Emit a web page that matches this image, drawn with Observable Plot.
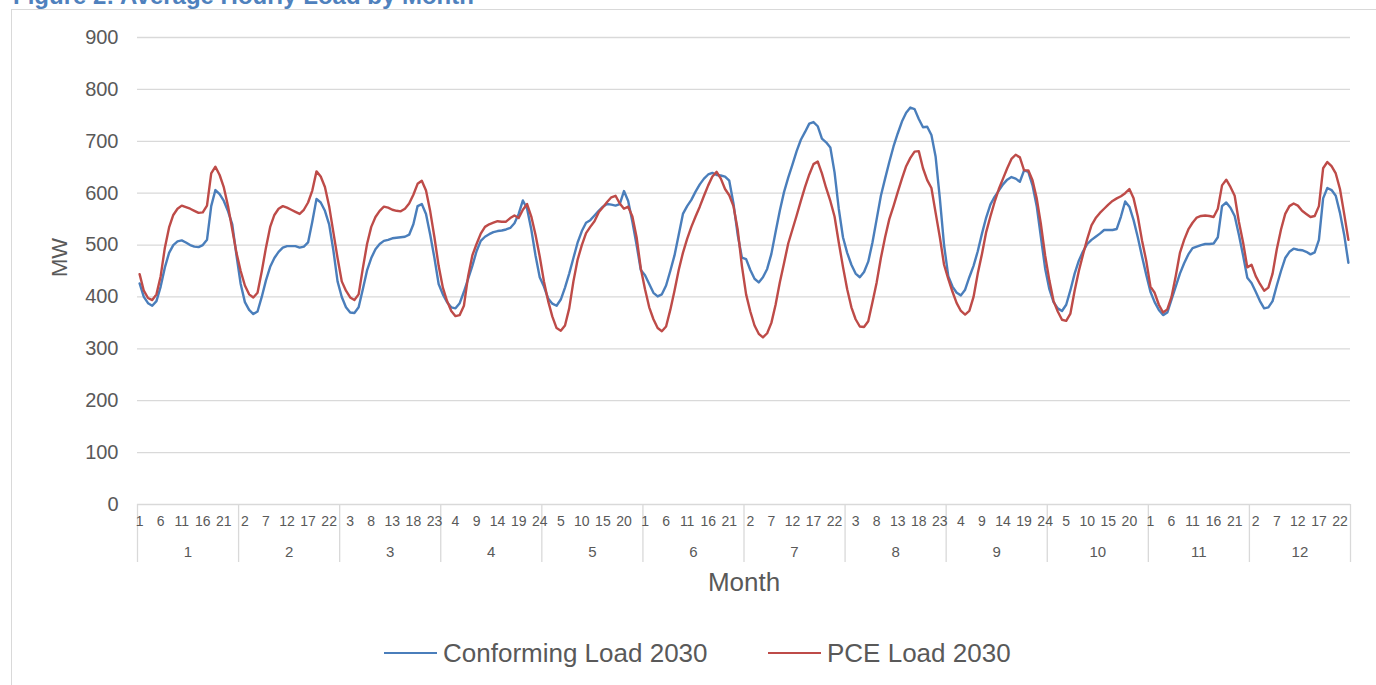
<!DOCTYPE html>
<html>
<head>
<meta charset="utf-8">
<script src="https://cdn.jsdelivr.net/npm/d3@7"></script>
<script src="https://cdn.jsdelivr.net/npm/@observablehq/plot@0.6"></script>
<style>
  body { margin: 0; background: #fff; font-family: "Liberation Sans", Arial, sans-serif; }
  #wrap { position: relative; width: 1376px; height: 685px; overflow: hidden; }
  #frame { position: absolute; left: 11px; top: 9px; width: 1450px; height: 760px;
           border-left: 1.5px solid #d9d9d9; border-top: 1.5px solid #d9d9d9; }
  #title { position: absolute; left: 13px; top: -16px; font-weight: bold; font-size: 24px;
           line-height: 24px; color: #4f81bd; white-space: nowrap; }
  #chart { position: absolute; left: 0; top: 0; }
  .sw { position: absolute; top: 652px; width: 53px; height: 0; border-top: 2.5px solid; }
  .lt { position: absolute; top: 638px; font-size: 26px; line-height: 30px; color: #595959; white-space: nowrap; }
</style>
</head>
<body>
<div id="wrap">
  <div id="frame"></div>
  <div id="title">Figure 2: Average Hourly Load by Month</div>
  <div id="chart"></div>
  <div class="sw" style="left:384px;border-color:#4a7ebb"></div>
  <div class="lt" style="left:443px">Conforming Load 2030</div>
  <div class="sw" style="left:768px;border-color:#be4b48"></div>
  <div class="lt" style="left:827px">PCE Load 2030</div>
</div>
<script>
const months = [1,2,3,4,5,6,7,8,9,10,11,12];
const hours = d3.range(1, 25);
const seriesNames = ["Conforming Load 2030", "PCE Load 2030"];
const seriesColors = ["#4a7ebb", "#be4b48"];
const yTicks = [0,100,200,300,400,500,600,700,800,900];

// Conforming Load 2030 (MW), one row per month, hours 1..24
const conforming = [
  [426,400,388,383,392,420,457,485,500,507,509,505,500,497,496,500,510,575,606,598,585,565,540,480],
  [425,390,375,367,372,400,432,458,475,487,495,498,498,498,495,497,505,545,589,582,566,540,490,430],
  [400,380,370,369,380,415,451,475,492,502,508,510,513,514,515,516,520,540,575,579,560,520,475,425],
  [405,390,380,378,388,410,435,460,488,508,516,521,525,527,528,530,533,542,560,586,570,530,480,438],
  [420,397,387,383,395,418,445,475,505,527,543,548,557,566,574,579,578,576,579,604,585,545,500,452],
  [442,425,408,401,405,422,450,480,520,560,575,587,603,617,628,636,639,635,634,632,624,580,520,476],
  [473,452,435,428,438,454,483,525,566,602,630,655,681,703,718,734,737,729,705,698,688,640,570,515],
  [485,462,445,438,448,468,505,550,595,628,660,690,715,738,755,765,762,743,727,728,712,670,590,500],
  [440,420,408,403,414,438,460,488,522,553,578,593,605,617,626,631,628,622,644,641,615,575,515,455],
  [415,390,378,373,385,413,445,470,488,502,510,516,522,529,529,529,531,555,584,574,548,515,478,443],
  [410,390,375,365,370,395,420,445,465,482,494,497,500,502,502,503,515,575,582,572,556,520,480,437],
  [427,410,392,378,380,392,422,450,475,487,493,491,490,487,482,486,510,590,610,606,595,562,520,466]
];

// PCE Load 2030 (MW), one row per month, hours 1..24
const pce = [
  [444,412,398,394,405,440,495,534,558,570,576,573,570,566,562,563,576,638,651,635,611,575,530,485],
  [450,422,405,399,408,449,495,535,558,570,575,572,568,564,560,568,582,605,642,632,612,575,525,475],
  [430,412,399,394,405,455,502,535,554,566,574,572,568,566,565,570,580,597,618,624,605,565,515,460],
  [418,392,373,363,365,383,440,480,502,522,535,540,543,546,545,545,552,557,552,568,579,555,520,478],
  [430,392,362,340,335,345,378,430,472,500,523,535,546,563,573,583,592,595,580,570,574,555,515,455],
  [415,380,357,340,334,343,375,412,452,485,512,535,555,574,595,615,632,641,628,608,596,575,530,460],
  [405,372,345,329,322,330,350,385,428,465,503,530,557,585,612,636,656,661,638,610,585,555,505,458],
  [415,380,357,343,342,353,390,428,475,515,550,575,602,628,652,668,680,681,648,625,610,562,515,462],
  [435,410,388,373,366,373,400,445,483,525,555,583,608,628,648,666,674,669,644,644,625,590,540,480],
  [432,392,372,356,354,368,412,450,482,512,538,552,562,570,578,585,590,594,600,608,590,555,509,470],
  [420,408,385,370,376,400,440,485,510,530,543,553,556,557,556,554,570,615,626,612,595,545,505,457],
  [462,440,425,412,418,445,492,530,560,575,580,576,566,560,554,556,575,648,660,652,638,608,560,510]
];

// Build a long table: category index (month, hour) -> value
const rows = [];
[conforming, pce].forEach((table, s) => {
  months.forEach((m, mi) => {
    hours.forEach((h, hi) => {
      rows.push({idx: mi * 24 + hi + 0.5, month: m, hour: h, value: table[mi][hi], series: seriesNames[s]});
    });
  });
});

const nCat = months.length * hours.length;
const hourTicks = d3.range(0, nCat, 5).map(i => i + 0.5);
const hourLabel = t => String(hours[Math.floor(t) % 24]);
const monthBounds = d3.range(0, nCat + 1, 24);
const monthCenters = months.map((m, i) => ({m, x: i * 24 + 12}));
const grey = "#595959";

const chart = Plot.plot({
  width: 1376,
  height: 610,
  marginLeft: 137,
  marginRight: 26,
  marginTop: 37,
  marginBottom: 106,
  style: {fontFamily: "'Liberation Sans', Arial, sans-serif", background: "transparent", overflow: "visible"},
  x: {domain: [0, nCat]},
  y: {domain: [0, 900]},
  color: {domain: seriesNames, range: seriesColors},
  marks: [
    Plot.gridY(yTicks.filter(d => d > 0), {stroke: "#d9d9d9", strokeOpacity: 1, strokeWidth: 1.3}),
    Plot.ruleY([0], {stroke: "#d9d9d9", strokeWidth: 1.3}),
    Plot.axisY(yTicks, {tickSize: 0, tickPadding: 19, fontSize: 20, fill: grey, label: null}),
    Plot.axisX(monthBounds, {tickSize: 58, tickFormat: () => "", stroke: "#d9d9d9", strokeWidth: 1.3, label: null}),
    Plot.axisX(hourTicks, {tickSize: 0, tickPadding: 12, tickFormat: hourLabel, fontSize: 14, fill: grey, label: null}),
    Plot.text(monthCenters, {x: "x", y: () => 0, text: d => String(d.m), dy: 48, fontSize: 15, fill: grey}),
    Plot.text(["Month"], {x: () => nCat / 2, y: () => 0, text: d => d, dy: 78, fontSize: 26, fill: grey}),
    Plot.text(["MW"], {x: () => 0, y: () => 476, text: d => d, dx: -78, rotate: -90, fontSize: 22, fill: grey}),
    Plot.line(rows, {x: "idx", y: "value", z: "series", stroke: "series", strokeWidth: 2.4})
  ]
});
document.getElementById("chart").appendChild(chart);
</script>
</body>
</html>
